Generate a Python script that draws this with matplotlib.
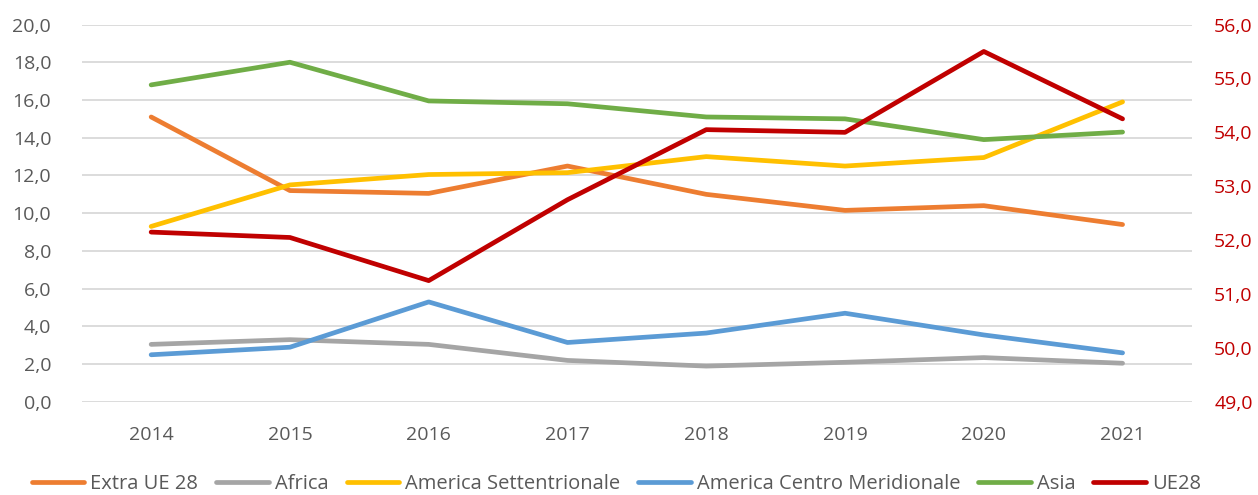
import matplotlib.pyplot as plt
from matplotlib.ticker import FuncFormatter

plt.rcParams['font.family'] = ['Open Sans', 'DejaVu Sans']

years = ['2014', '2015', '2016', '2017', '2018', '2019', '2020', '2021']
extra_ue28 = [15.1, 11.2, 11.05, 12.5, 11.0, 10.15, 10.4, 9.4]
africa = [3.05, 3.3, 3.05, 2.2, 1.9, 2.1, 2.35, 2.05]
america_sett = [9.3, 11.5, 12.05, 12.15, 13.0, 12.5, 12.95, 15.9]
america_cm = [2.5, 2.9, 5.3, 3.15, 3.65, 4.7, 3.55, 2.6]
asia = [16.8, 18.0, 15.95, 15.8, 15.1, 15.0, 13.9, 14.3]
ue28 = [52.15, 52.05, 51.25, 52.75, 54.05, 54.0, 55.5, 54.25]

series = [
    ('Extra UE 28', extra_ue28, '#ED7D31'),
    ('Africa', africa, '#A5A5A5'),
    ('America Settentrionale', america_sett, '#FFC000'),
    ('America Centro Meridionale', america_cm, '#5B9BD5'),
    ('Asia', asia, '#70AD47'),
]

fmt = FuncFormatter(lambda v, p: f'{v:.1f}'.replace('.', ','))

fig = plt.figure(figsize=(12.58, 4.95), dpi=100)
ax = fig.add_axes([0.065, 0.188, 0.8825, 0.7625])
x = range(len(years))

handles = []
for name, vals, col in series:
    h, = ax.plot(x, vals, color=col, lw=3.4, label=name, solid_capstyle='round')
    handles.append(h)

ax.set_ylim(0, 20)
ax.set_yticks(range(0, 21, 2))
ax.yaxis.set_major_formatter(fmt)
ax.set_xlim(-0.5, len(years) - 0.5)
ax.set_xticks(list(x))
ax.set_xticklabels(years)
ax.grid(axis='y', color='#D9D9D9', lw=1.3)
ax.set_axisbelow(True)
for s in ax.spines.values():
    s.set_visible(False)
ax.tick_params(length=0, labelsize=14, colors='#595959')
ax.tick_params(axis='x', pad=17)
ax.tick_params(axis='y', pad=22)

ax2 = ax.twinx()
h, = ax2.plot(x, ue28, color='#C00000', lw=3.4, label='UE28', solid_capstyle='round')
handles.append(h)
ax2.set_ylim(49, 56)
ax2.set_yticks(range(49, 57))
ax2.yaxis.set_major_formatter(fmt)
for s in ax2.spines.values():
    s.set_visible(False)
ax2.tick_params(length=0, labelsize=14, colors='#C00000', pad=16)

fig.legend(handles=handles, loc='lower center', ncol=6, frameon=False,
           bbox_to_anchor=(0.49, -0.035), fontsize=14.5, handlelength=2.6,
           handletextpad=0.3, columnspacing=0.9, labelcolor='#595959')

fig.savefig('out.png', dpi=100)
